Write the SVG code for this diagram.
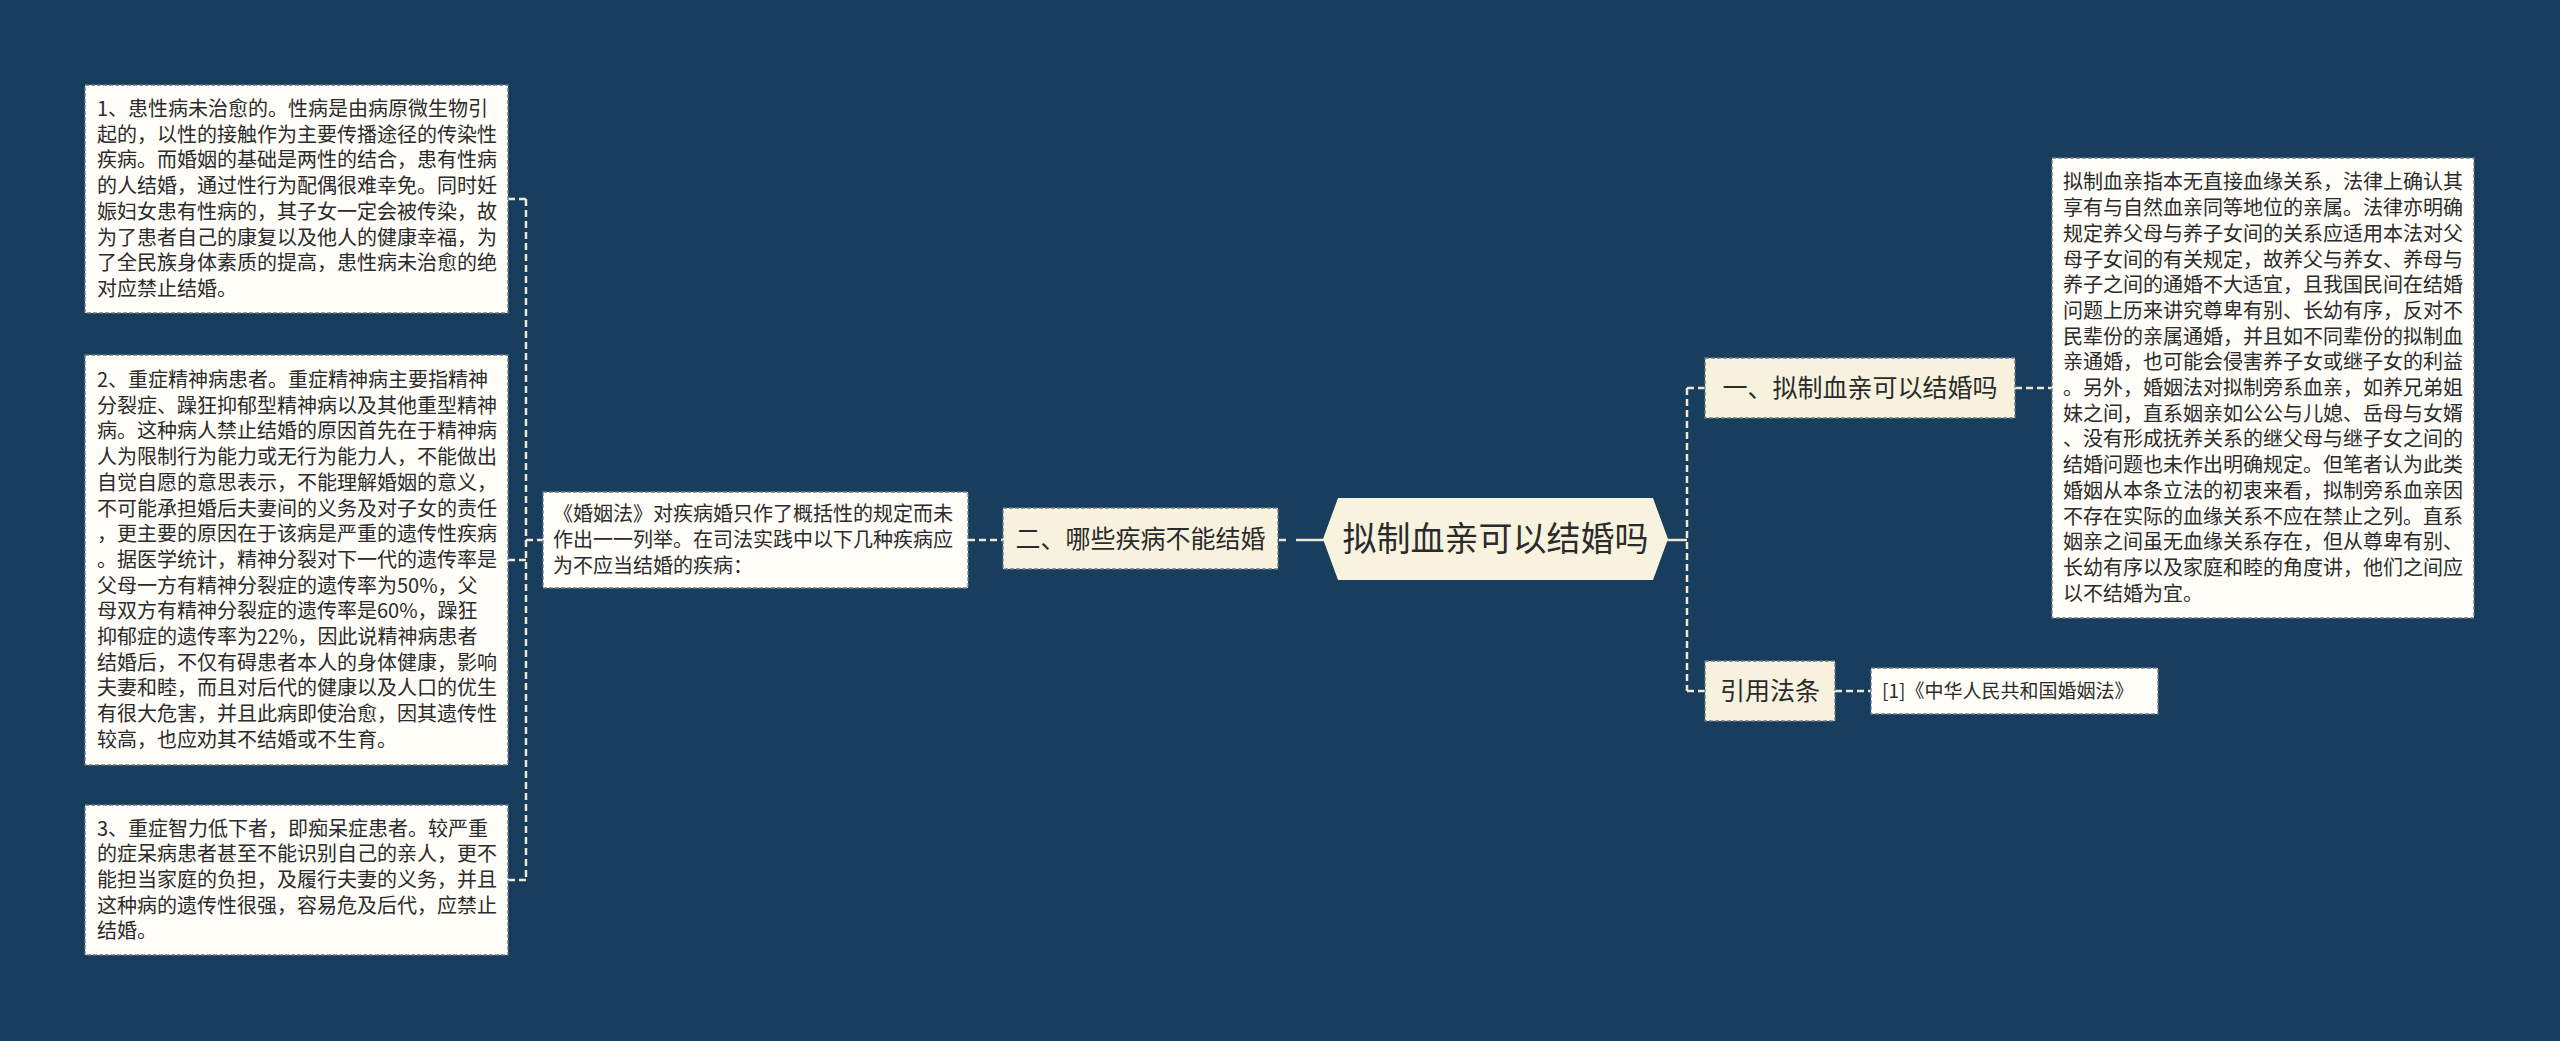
<svg xmlns="http://www.w3.org/2000/svg" width="2560" height="1041" viewBox="0 0 2560 1041">
<style>
text{font-family:"Noto Sans CJK SC","Noto Sans",sans-serif;fill:#2b2b2b}
.box{fill:#fefdf7;stroke:#6f7a84;stroke-width:1.3;stroke-dasharray:4 2}
.sub{fill:#f7f2de;stroke:#6f7a84;stroke-width:1.3;stroke-dasharray:4 2}
.t20{font-size:20px}
.t25{font-size:25px}
.conn path{fill:none;stroke:#eee8d3;stroke-width:2.5}
.conn .d{stroke-dasharray:7 4}
</style>
<rect x="0" y="0" width="2560" height="1041" fill="#183d5d"/>
<g class="conn" id="connectors">
<path class="d" d="M526,199 V881"/>
<path class="d" d="M508,199 H526"/>
<path class="d" d="M508,560 H526"/>
<path class="d" d="M508,880 H526"/>
<path class="d" d="M526,540 H543"/>
<path class="d" d="M968,540 H1003"/>
<path class="d" d="M1279,540 H1288"/>
<path d="M1296,540 H1324"/>
<path d="M1667,540 H1687"/>
<path class="d" d="M1687,388 V691"/>
<path class="d" d="M1687,388 H1705"/>
<path class="d" d="M1687,691 H1705"/>
<path class="d" d="M2015,388 H2052"/>
<path class="d" d="M1835,691 H1871"/>
</g>
<g id="center">
<polygon points="1323,539 1338,498 1653,498 1668,539 1653,580 1338,580" fill="#f8f3df"/>
<text x="1495.5" y="551" font-size="34" text-anchor="middle" fill="#222">拟制血亲可以结婚吗</text>
</g>
<g id="n-two">
<rect class="sub" x="1003" y="508" width="275" height="61"/>
<text class="t25" x="1140.5" y="548" text-anchor="middle">二、哪些疾病不能结婚</text>
</g>
<g id="n-mid">
<rect class="box" x="543" y="492" width="425" height="96"/>
<text class="t20" x="553" y="521.3"><tspan x="553">《婚姻法》对疾病婚只作了概括性的规定而未</tspan><tspan x="553" dy="25.7">作出一一列举。在司法实践中以下几种疾病应</tspan><tspan x="553" dy="25.7">为不应当结婚的疾病：</tspan></text>
</g>
<g id="n-box1">
<rect class="box" x="85" y="85" width="423" height="228"/>
<text class="t20" x="97" y="116"><tspan x="97">1、患性病未治愈的。性病是由病原微生物引</tspan><tspan x="97" dy="25.7">起的，以性的接触作为主要传播途径的传染性</tspan><tspan x="97" dy="25.7">疾病。而婚姻的基础是两性的结合，患有性病</tspan><tspan x="97" dy="25.7">的人结婚，通过性行为配偶很难幸免。同时妊</tspan><tspan x="97" dy="25.7">娠妇女患有性病的，其子女一定会被传染，故</tspan><tspan x="97" dy="25.7">为了患者自己的康复以及他人的健康幸福，为</tspan><tspan x="97" dy="25.7">了全民族身体素质的提高，患性病未治愈的绝</tspan><tspan x="97" dy="25.7">对应禁止结婚。</tspan></text>
</g>
<g id="n-box2">
<rect class="box" x="85" y="355" width="423" height="410"/>
<text class="t20" x="97" y="387"><tspan x="97">2、重症精神病患者。重症精神病主要指精神</tspan><tspan x="97" dy="25.7">分裂症、躁狂抑郁型精神病以及其他重型精神</tspan><tspan x="97" dy="25.7">病。这种病人禁止结婚的原因首先在于精神病</tspan><tspan x="97" dy="25.7">人为限制行为能力或无行为能力人，不能做出</tspan><tspan x="97" dy="25.7">自觉自愿的意思表示，不能理解婚姻的意义，</tspan><tspan x="97" dy="25.7">不可能承担婚后夫妻间的义务及对子女的责任</tspan><tspan x="97" dy="25.7">，更主要的原因在于该病是严重的遗传性疾病</tspan><tspan x="97" dy="25.7">。据医学统计，精神分裂对下一代的遗传率是</tspan><tspan x="97" dy="25.7">父母一方有精神分裂症的遗传率为50%，父</tspan><tspan x="97" dy="25.7">母双方有精神分裂症的遗传率是60%，躁狂</tspan><tspan x="97" dy="25.7">抑郁症的遗传率为22%，因此说精神病患者</tspan><tspan x="97" dy="25.7">结婚后，不仅有碍患者本人的身体健康，影响</tspan><tspan x="97" dy="25.7">夫妻和睦，而且对后代的健康以及人口的优生</tspan><tspan x="97" dy="25.7">有很大危害，并且此病即使治愈，因其遗传性</tspan><tspan x="97" dy="25.7">较高，也应劝其不结婚或不生育。</tspan></text>
</g>
<g id="n-box3">
<rect class="box" x="85" y="805" width="423" height="150"/>
<text class="t20" x="97" y="835.6"><tspan x="97">3、重症智力低下者，即痴呆症患者。较严重</tspan><tspan x="97" dy="25.7">的症呆病患者甚至不能识别自己的亲人，更不</tspan><tspan x="97" dy="25.7">能担当家庭的负担，及履行夫妻的义务，并且</tspan><tspan x="97" dy="25.7">这种病的遗传性很强，容易危及后代，应禁止</tspan><tspan x="97" dy="25.7">结婚。</tspan></text>
</g>
<g id="n-one">
<rect class="sub" x="1705" y="358" width="310" height="60"/>
<text class="t25" x="1860" y="397" text-anchor="middle">一、拟制血亲可以结婚吗</text>
</g>
<g id="n-right">
<rect class="box" x="2052" y="158" width="422" height="460"/>
<text class="t20" x="2063" y="189.4"><tspan x="2063">拟制血亲指本无直接血缘关系，法律上确认其</tspan><tspan x="2063" dy="25.7">享有与自然血亲同等地位的亲属。法律亦明确</tspan><tspan x="2063" dy="25.7">规定养父母与养子女间的关系应适用本法对父</tspan><tspan x="2063" dy="25.7">母子女间的有关规定，故养父与养女、养母与</tspan><tspan x="2063" dy="25.7">养子之间的通婚不大适宜，且我国民间在结婚</tspan><tspan x="2063" dy="25.7">问题上历来讲究尊卑有别、长幼有序，反对不</tspan><tspan x="2063" dy="25.7">民辈份的亲属通婚，并且如不同辈份的拟制血</tspan><tspan x="2063" dy="25.7">亲通婚，也可能会侵害养子女或继子女的利益</tspan><tspan x="2063" dy="25.7">。另外，婚姻法对拟制旁系血亲，如养兄弟姐</tspan><tspan x="2063" dy="25.7">妹之间，直系姻亲如公公与儿媳、岳母与女婿</tspan><tspan x="2063" dy="25.7">、没有形成抚养关系的继父母与继子女之间的</tspan><tspan x="2063" dy="25.7">结婚问题也未作出明确规定。但笔者认为此类</tspan><tspan x="2063" dy="25.7">婚姻从本条立法的初衷来看，拟制旁系血亲因</tspan><tspan x="2063" dy="25.7">不存在实际的血缘关系不应在禁止之列。直系</tspan><tspan x="2063" dy="25.7">姻亲之间虽无血缘关系存在，但从尊卑有别、</tspan><tspan x="2063" dy="25.7">长幼有序以及家庭和睦的角度讲，他们之间应</tspan><tspan x="2063" dy="25.7">以不结婚为宜。</tspan></text>
</g>
<g id="n-law">
<rect class="sub" x="1705" y="661" width="130" height="60"/>
<text class="t25" x="1770" y="700" text-anchor="middle">引用法条</text>
</g>
<g id="n-law1">
<rect class="box" x="1871" y="668" width="287" height="46"/>
<text x="1882" y="698" font-size="19">[1]《中华人民共和国婚姻法》</text>
</g>
</svg>
